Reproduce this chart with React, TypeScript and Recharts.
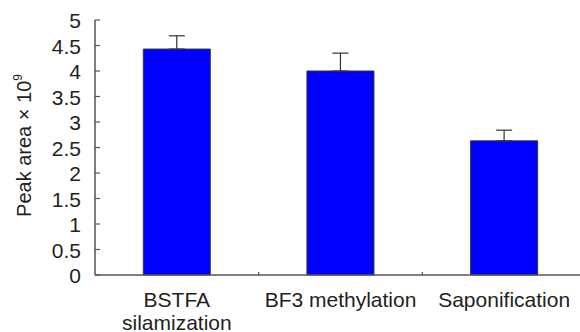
import React from "react";
import { BarChart, Bar, XAxis, YAxis, ErrorBar } from "recharts";

const categories = ["BSTFA\nsilamization", "BF3 methylation", "Saponification"];
const peakArea = [4.43, 4.0, 2.63];
const peakErr = [0.26, 0.35, 0.21];
const yTicks = [0, 0.5, 1, 1.5, 2, 2.5, 3, 3.5, 4, 4.5, 5];

const data = categories.map((c, i) => ({
  name: c,
  value: peakArea[i],
  err: [0, peakErr[i]],
}));

const FONT = "'Liberation Sans', Arial, Helvetica, sans-serif";
const TEXT = "#231f20";
const AXIS = "#555";

const YTick = (props: any) => {
  const { x, y, payload } = props;
  return (
    <g>
      <line x1={x + 14} x2={x + 19} y1={y} y2={y} stroke={AXIS} strokeWidth={1.2} />
      <text x={x} y={y} dy={8} textAnchor="end" fontSize={21} fontFamily={FONT} fill={TEXT}>
        {payload.value}
      </text>
    </g>
  );
};

const XTick = (props: any) => {
  const { x, y, payload, index, visibleTicksCount, width } = props;
  const half =
    payload.offset != null ? payload.offset : width / visibleTicksCount / 2;
  const lines = String(payload.value).split("\n");
  return (
    <g>
      {index < visibleTicksCount - 1 && (
        <line x1={x + half} x2={x + half} y1={y} y2={y - 3} stroke={AXIS} strokeWidth={1.2} />
      )}
      <text x={x} y={y + 32} textAnchor="middle" fontSize={21} fontFamily={FONT} fill={TEXT}>
        {lines.map((l, i) => (
          <tspan key={i} x={x} dy={i === 0 ? 0 : 23}>
            {l}
          </tspan>
        ))}
      </text>
    </g>
  );
};

const YTitle = (props: any) => {
  const { viewBox } = props;
  const cx = viewBox.x + 31;
  const cy = viewBox.y + viewBox.height / 2 - 2;
  return (
    <text
      x={cx}
      y={cy}
      transform={`rotate(-90, ${cx}, ${cy})`}
      textAnchor="middle"
      fontSize={20}
      fontFamily={FONT}
      fill={TEXT}
    >
      Peak area × 10
      <tspan fontSize={12} dy={-9}>9</tspan>
    </text>
  );
};

export default function App() {
  return (
    <div
      style={{
        position: "absolute",
        left: 0,
        top: 0,
        width: 580,
        height: 332,
        overflow: "hidden",
        background: "#fff",
      }}
    >
      <BarChart
        width={600}
        height={332}
        data={data}
        margin={{ top: 20, right: 14, bottom: 0, left: 0 }}
        barCategoryGap="29.5%"
      >
        <XAxis
          dataKey="name"
          height={57}
          tickSize={0}
          tickMargin={0}
          tickLine={false}
          axisLine={{ stroke: AXIS, strokeWidth: 1.5 }}
          tick={<XTick />}
          interval={0}
        />
        <YAxis
          width={95}
          domain={[0, 5]}
          ticks={yTicks}
          tickSize={0}
          tickMargin={14}
          tickLine={false}
          axisLine={{ stroke: AXIS, strokeWidth: 1.5 }}
          tick={<YTick />}
          interval={0}
          label={<YTitle />}
        />
        <Bar dataKey="value" fill="#0000ff" stroke="#333" strokeWidth={1} isAnimationActive={false}>
          <ErrorBar dataKey="err" width={8} stroke="#333" strokeWidth={1.2} isAnimationActive={false} />
        </Bar>
      </BarChart>
    </div>
  );
}
